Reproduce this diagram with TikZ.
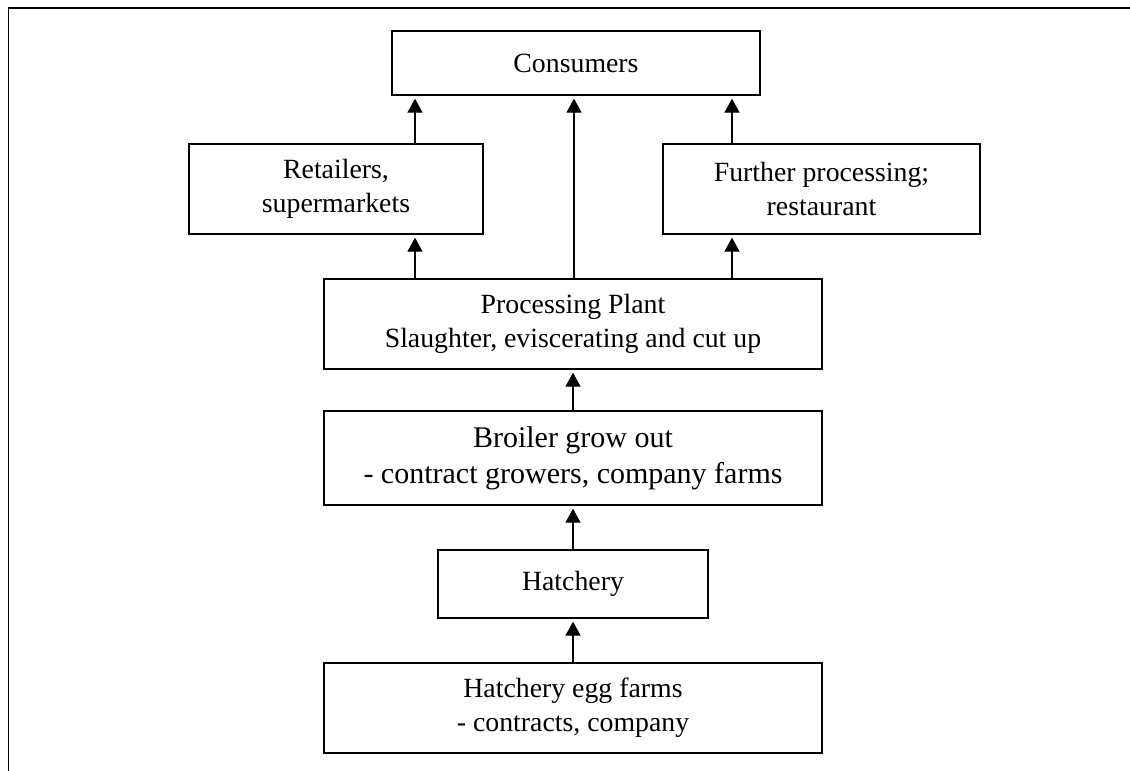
\documentclass[tikz,border=0pt]{standalone}
\usepackage{fontspec}
\setmainfont{Liberation Serif}
\usetikzlibrary{arrows.meta,calc}
\tikzset{
  box/.style={draw=black, line width=1.3pt, rectangle, align=center, inner sep=0pt,
    font=\fontsize{27.8}{34}\selectfont},
  arr/.style={line width=1.3pt, -{Triangle[length=14pt,width=15pt]}, shorten >=3pt},
}
\begin{document}
\begin{tikzpicture}[x=1pt,y=-1pt]
\useasboundingbox (0,0) rectangle (1130,771);
\draw[line width=1.6pt] (8.5,771) -- (8.5,8) -- (1130,8);
\node[box, minimum width=368pt, minimum height=64pt] (cons) at (576,63) {Consumers};
\node[box, minimum width=294pt, minimum height=90pt] (ret) at (336,189) {Retailers,\\supermarkets};
\node[box, minimum width=317pt, minimum height=90pt] (fur) at (821.5,189) {Further processing;\\restaurant};
\node[box, minimum width=498pt, minimum height=90pt] (proc) at (573,324) {Processing Plant\\Slaughter, eviscerating and cut up};
\node[box, minimum width=498pt, minimum height=94pt, font=\fontsize{30}{36}\selectfont] (broil) at (573,458) {Broiler grow out\\- contract growers, company farms};
\node[box, minimum width=270pt, minimum height=68pt] (hat) at (573,584) {Hatchery};
\node[box, minimum width=498pt, minimum height=90pt] (egg) at (573,708) {Hatchery egg farms\\- contracts, company};
\coordinate (a1) at (415,0);
\coordinate (a2) at (574,0);
\coordinate (a3) at (732,0);
\draw[arr] (ret.north -| a1) -- (cons.south -| a1);
\draw[arr] (fur.north -| a3) -- (cons.south -| a3);
\draw[arr] (proc.north -| a1) -- (ret.south -| a1);
\draw[arr] (proc.north -| a2) -- (cons.south -| a2);
\draw[arr] (proc.north -| a3) -- (fur.south -| a3);
\draw[arr] (broil.north) -- (proc.south);
\draw[arr] (hat.north) -- (broil.south);
\draw[arr] (egg.north) -- (hat.south);
\end{tikzpicture}
\end{document}
